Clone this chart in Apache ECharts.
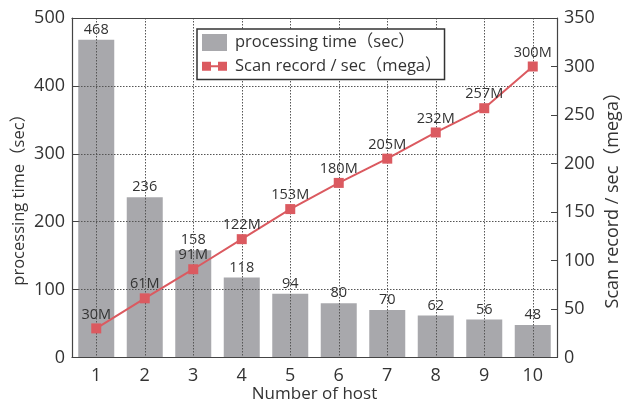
<!DOCTYPE html>
<html><head><meta charset="utf-8">
<script src="https://cdn.jsdelivr.net/npm/echarts@6/dist/echarts.min.js"></script>
<style>html,body{margin:0;padding:0;background:#fff;overflow:hidden}#c{width:630px;height:408px}</style>
</head><body><div id="c"></div>
<script>
const categories = ['1','2','3','4','5','6','7','8','9','10'];
const processingTime = [468, 236, 158, 118, 94, 80, 70, 62, 56, 48];
const scanRecord = [30, 61, 91, 122, 153, 180, 205, 232, 257, 300];
const leftTicks = {min: 0, max: 500, interval: 100};
const rightTicks = {min: 0, max: 350, interval: 50};
const barName = 'processing time（sec）';
const lineName = 'Scan record / sec（mega）';

const FONT = '"Open Sans", "Noto Sans CJK JP", sans-serif';
const AX = '#444';
const chart = echarts.init(document.getElementById('c'), null, {renderer: 'canvas'});
chart.setOption({
  animation: false,
  backgroundColor: '#fff',
  textStyle: {fontFamily: FONT},
  grid: {left: 72, right: 66, top: 18, bottom: 45, containLabel: false},
  legend: {
    orient: 'vertical', left: 197, top: 29, z: 20,
    backgroundColor: '#fff', borderColor: '#333', borderWidth: 1.5, borderRadius: 0,
    padding: [5, 3, 5, 5], itemGap: 7, itemWidth: 25, itemHeight: 17,
    textStyle: {fontFamily: FONT, fontSize: 16.5, color: '#333', padding: [0,0,0,3]},
    data: [
      {name: barName, icon: 'rect'},
      {name: lineName, icon: 'path://M0,0h9v9h-9z M9,3.5h7v2h-7z M16,0h9v9h-9z'}
    ]
  },
  xAxis: [{
    type: 'category', data: categories, position: 'bottom', z: 5,
    name: 'Number of host', nameLocation: 'middle', nameGap: 37, nameMoveOverlap: false,
    nameTextStyle: {fontFamily: FONT, fontSize: 17, color: '#333', align: 'center', verticalAlign: 'middle'},
    axisLine: {lineStyle: {color: AX, width: 1.2}},
    axisTick: {inside: true, alignWithLabel: true, length: 5, lineStyle: {color: AX}},
    axisLabel: {fontFamily: FONT, fontSize: 18, color: '#333', margin: 18, verticalAlign: 'middle'},
    splitLine: {show: true, alignWithLabel: true, lineStyle: {type: [1.5, 1.5], color: '#555', width: 1}}
  }, {
    type: 'category', data: categories, position: 'top', z: 5,
    axisLine: {onZero: false, lineStyle: {color: AX, width: 1.2}},
    axisTick: {inside: true, alignWithLabel: true, length: 5, lineStyle: {color: AX}},
    axisLabel: {show: false}, splitLine: {show: false}
  }],
  yAxis: [{
    type: 'value', position: 'left', z: 5,
    min: leftTicks.min, max: leftTicks.max, interval: leftTicks.interval,
    name: barName, nameLocation: 'middle', nameGap: 52.5, nameRotate: 90, nameMoveOverlap: false,
    nameTextStyle: {fontFamily: FONT, fontSize: 16.5, color: '#333', align: 'center', verticalAlign: 'middle', padding: [0, 16, 0, 0]},
    axisLine: {show: true, lineStyle: {color: AX, width: 1.2}},
    axisTick: {show: true, inside: true, length: 6, lineStyle: {color: AX}},
    axisLabel: {fontFamily: FONT, fontSize: 18, color: '#333', margin: 7},
    splitLine: {show: true, lineStyle: {type: [1.5, 1.5], color: '#555', width: 1}}
  }, {
    type: 'value', position: 'right', z: 5,
    min: rightTicks.min, max: rightTicks.max, interval: rightTicks.interval,
    name: lineName, nameLocation: 'middle', nameGap: 56, nameRotate: 90, nameMoveOverlap: false,
    nameTextStyle: {fontFamily: FONT, fontSize: 18, color: '#333', align: 'center', verticalAlign: 'middle', padding: [0, 16, 0, 0]},
    axisLine: {show: true, lineStyle: {color: AX, width: 1.2}},
    axisTick: {show: true, inside: true, length: 6, lineStyle: {color: AX}},
    axisLabel: {fontFamily: FONT, fontSize: 18, color: '#333', margin: 7},
    splitLine: {show: false}
  }],
  series: [{
    name: barName, type: 'bar', xAxisIndex: 0, yAxisIndex: 0, z: 2,
    data: processingTime, barWidth: 36,
    itemStyle: {color: '#a8a8ac'},
    label: {show: true, position: 'top', distance: 10, verticalAlign: 'middle', fontFamily: FONT, fontSize: 14.5, color: '#333'}
  }, {
    name: lineName, type: 'line', xAxisIndex: 0, yAxisIndex: 1, z: 10,
    data: scanRecord, symbol: 'rect', symbolSize: 10,
    lineStyle: {color: '#db5a60', width: 2}, itemStyle: {color: '#db5a60'},
    label: {show: true, position: 'top', distance: 9, verticalAlign: 'middle', fontFamily: FONT, fontSize: 14.5, color: '#333',
      formatter: p => p.value + 'M'}
  }]
});
</script></body></html>
